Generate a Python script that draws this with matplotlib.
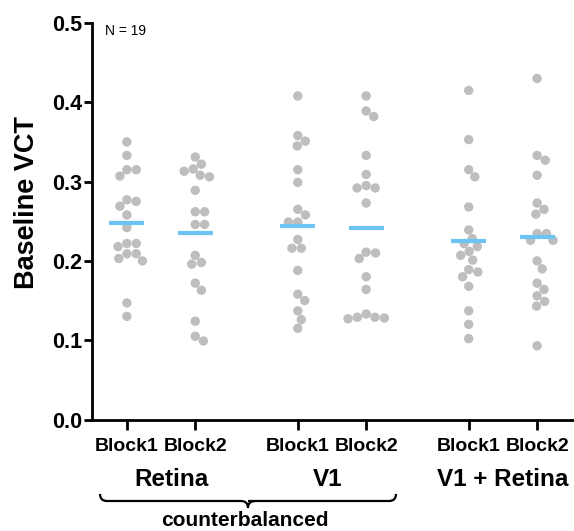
import numpy as np
import matplotlib
matplotlib.use("Agg")
import matplotlib.pyplot as plt
from matplotlib.path import Path
from matplotlib.patches import PathPatch

plt.rcParams['font.family'] = ['Liberation Sans', 'DejaVu Sans']

# ---------------- data ----------------
tick_labels = ["Block1", "Block2", "Block1", "Block2", "Block1", "Block2"]
group_labels = ["Retina", "V1", "V1 + Retina"]
bracket_label = "counterbalanced"
n_label = "N = 19"

retina_block1 = [0.350, 0.333, 0.315, 0.315, 0.307, 0.277, 0.275, 0.269, 0.258, 0.242,
                 0.222, 0.222, 0.218, 0.209, 0.209, 0.203, 0.200, 0.147, 0.130]
retina_block2 = [0.331, 0.322, 0.316, 0.313, 0.308, 0.306, 0.289, 0.262, 0.262, 0.246,
                 0.246, 0.207, 0.198, 0.196, 0.172, 0.163, 0.124, 0.105, 0.099]
v1_block1 = [0.408, 0.358, 0.351, 0.345, 0.315, 0.299, 0.265, 0.258, 0.249, 0.249,
             0.227, 0.216, 0.216, 0.188, 0.158, 0.150, 0.137, 0.126, 0.115]
v1_block2 = [0.408, 0.389, 0.382, 0.333, 0.309, 0.295, 0.292, 0.292, 0.273, 0.211,
             0.210, 0.203, 0.180, 0.164, 0.133, 0.129, 0.129, 0.128, 0.127]
v1retina_block1 = [0.415, 0.353, 0.315, 0.306, 0.268, 0.239, 0.228, 0.222, 0.218, 0.212,
                   0.207, 0.201, 0.189, 0.186, 0.180, 0.168, 0.137, 0.120, 0.102]
v1retina_block2 = [0.430, 0.333, 0.327, 0.308, 0.273, 0.265, 0.259, 0.2345, 0.2345, 0.226,
                   0.226, 0.200, 0.190, 0.172, 0.164, 0.156, 0.149, 0.143, 0.093]

series = [retina_block1, retina_block2, v1_block1, v1_block2, v1retina_block1, v1retina_block2]
positions = [0, 1, 2.5, 3.5, 5, 6]

# ---------------- figure ----------------
W, H = 574, 531
fig = plt.figure(figsize=(W / 100, H / 100), dpi=100)

def fx(px):
    return px / W

def fy(py):
    return 1 - py / H

ax = fig.add_axes([fx(92), fy(419.5), fx(574) - fx(92), fy(23) - fy(419.5)])
ax.set_xlim(-0.51, 6.54)
ax.set_ylim(0, 0.5)

dot_color = "#bebebe"
mean_color = "#6cc4f2"
dot_diam_px = 9.4

fig.canvas.draw()

def swarm_offsets(values, pos, d):
    pts = ax.transData.transform(np.column_stack([np.full(len(values), pos), values]))
    ys = pts[:, 1]
    x0 = pts[0, 0]
    order = np.argsort(-ys)
    placed = []
    xs = np.zeros(len(values))
    for i in order:
        y = ys[i]
        nb = [(px, py) for px, py in placed if abs(py - y) < d]
        cands = [0.0]
        for px, py in nb:
            dx = np.sqrt(max(d * d - (py - y) ** 2, 0))
            cands += [px + dx, px - dx]
        cands = sorted(cands, key=lambda c: (round(abs(c), 6), -c))
        for c in cands:
            if all((c - px) ** 2 + (y - py) ** 2 >= d * d - 1e-6 for px, py in nb):
                xs[i] = c
                break
        placed.append((xs[i], y))
    inv = ax.transData.inverted()
    data_x = inv.transform(np.column_stack([x0 + xs, ys]))[:, 0]
    return data_x

for vals, pos in zip(series, positions):
    xs = swarm_offsets(vals, pos, dot_diam_px)
    ax.scatter(xs, vals, s=(dot_diam_px * 72 / 100) ** 2, color=dot_color,
               edgecolors="none", zorder=2, clip_on=False)
    m = np.mean(vals)
    ax.hlines(m, pos - 0.255, pos + 0.255, color=mean_color, lw=3.0, zorder=3)

# axes styling
for s in ["top", "right"]:
    ax.spines[s].set_visible(False)
for s in ["left", "bottom"]:
    ax.spines[s].set_linewidth(2.0)

yt = [0.0, 0.1, 0.2, 0.3, 0.4, 0.5]
ax.set_yticks(yt)
ax.set_yticklabels([f"{v:.1f}" for v in yt], fontsize=15.5, fontweight="bold")
ax.tick_params(axis="y", length=5.5, width=2, pad=1.5)

ax.set_xticks(positions)
ax.set_xticklabels(tick_labels, fontsize=14, fontweight="bold")
ax.tick_params(axis="x", length=7.5, width=2, pad=5.5)

# y label
fig.text(fx(27.5), fy(203), "Baseline VCT", rotation=90, ha="center", va="center",
         fontsize=19.5, fontweight="bold")

# N label
fig.text(fx(105), fy(35), n_label, fontsize=10, va="baseline", ha="left")

# group labels
for lab, xp in zip(group_labels, [171, 328, 502.5]):
    fig.text(fx(xp), fy(486), lab, ha="center", va="baseline", fontsize=17.5,
             fontweight="bold")

# curly brace
xl, xr, xm = 100, 396, 248
yt_, yh, ytip = 494, 501, 508
r = 7
verts = [
    (xl, yt_),
    (xl, yh), (xl + r, yh),
    (xm - r, yh),
    (xm, yh), (xm, ytip),
    (xm, yh), (xm + r, yh),
    (xr - r, yh),
    (xr, yh), (xr, yt_),
]
codes = [Path.MOVETO,
         Path.CURVE3, Path.CURVE3,
         Path.LINETO,
         Path.CURVE3, Path.CURVE3,
         Path.MOVETO, Path.LINETO,
         Path.LINETO,
         Path.CURVE3, Path.CURVE3]
verts_fig = [(fx(a), fy(b)) for a, b in verts]
path = Path(verts_fig, codes)
fig.patches.append(PathPatch(path, transform=fig.transFigure, fill=False,
                             lw=1.6, edgecolor="black", figure=fig))
path2 = Path([(fx(xm), fy(ytip)), (fx(xm), fy(yh)), (fx(xm + r), fy(yh))],
             [Path.MOVETO, Path.CURVE3, Path.CURVE3])
fig.patches.append(PathPatch(path2, transform=fig.transFigure, fill=False,
                             lw=1.6, edgecolor="black", figure=fig))

fig.text(fx(245), fy(526.5), bracket_label, ha="center", va="baseline", fontsize=15,
         fontweight="bold")

fig.savefig("out.png", dpi=100)
